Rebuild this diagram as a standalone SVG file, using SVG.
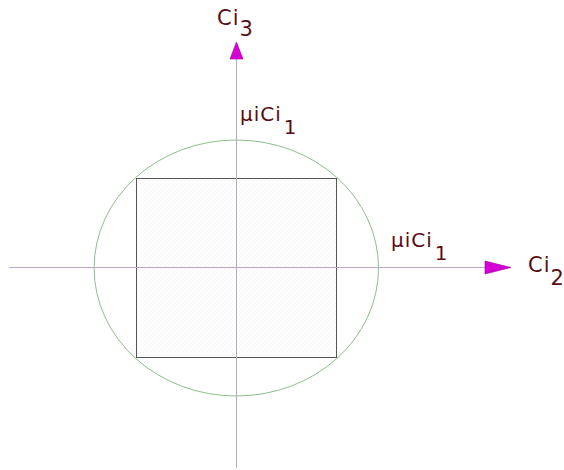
<svg xmlns="http://www.w3.org/2000/svg" width="564" height="470" viewBox="0 0 564 470">
<style>
.axis{stroke:#b9a6c2;stroke-width:1;fill:none}
.arrow{fill:#d400d4;stroke:#a000a0;stroke-width:0.6}
.lbl{font-family:"DejaVu Sans",Verdana,sans-serif;font-size:20px;letter-spacing:1px;fill:#5a0d12}
.ci{font-size:21px}
</style>
<defs>
<pattern id="dots" width="4" height="4" patternUnits="userSpaceOnUse">
<rect width="4" height="4" fill="#fefefe"/>
<circle cx="1" cy="1" r="0.5" fill="#e6e6e6"/>
<circle cx="3" cy="3" r="0.5" fill="#ececec"/>
</pattern>
</defs>
<rect width="564" height="470" fill="#ffffff"/>
<g id="square">
<rect x="136.5" y="178.5" width="200" height="179" fill="url(#dots)" stroke="#555555" stroke-width="1"/>
</g>
<g id="ellipse">
<ellipse cx="236.3" cy="268" rx="142.2" ry="128" fill="none" stroke="#8cbf8c" stroke-width="1"/>
</g>
<g id="connectors">
<line class="axis" x1="236.5" y1="58" x2="236.5" y2="468"/>
<line class="axis" x1="9" y1="267.5" x2="486" y2="267.5"/>
<polygon class="arrow" points="236.5,42 243,59 230,59"/>
<polygon class="arrow" points="511,267.5 485,261 485,274"/>
</g>
<g id="label-ci3">
<text class="lbl ci" x="217" y="25">Ci<tspan dy="11">3</tspan></text>
</g>
<g id="label-mu-top">
<text class="lbl" x="240" y="121">μiCi<tspan dx="2" dy="13">1</tspan></text>
</g>
<g id="label-mu-right">
<text class="lbl" x="391" y="247">μiCi<tspan dx="2" dy="13">1</tspan></text>
</g>
<g id="label-ci2">
<text class="lbl ci" x="528" y="272">Ci<tspan dy="13">2</tspan></text>
</g>
</svg>
